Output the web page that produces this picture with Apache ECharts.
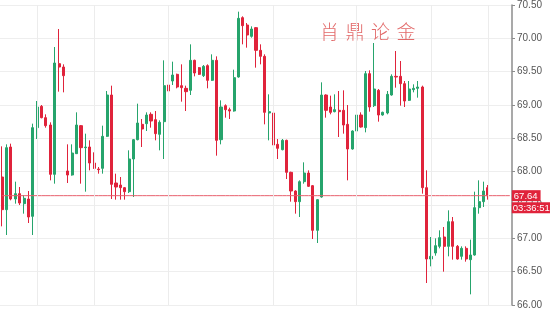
<!DOCTYPE html>
<html>
<head>
<meta charset="utf-8">
<script src="https://cdn.jsdelivr.net/npm/echarts@6/dist/echarts.min.js"></script>
<style>
html,body{margin:0;padding:0;background:#ffffff;}
#chart{width:550px;height:315px;}
</style>
</head>
<body>
<div id="chart"></div>
<script>
// ---- data (prices) ----
const openP = [
67.92,67.43,68.37,67.59,67.67,67.52,67.59,67.33,68.66,68.98,
68.81,68.70,67.96,69.62,69.57,68.01,67.95,68.27,68.69,68.36,
68.37,68.13,68.04,68.05,68.53,69.15,67.83,67.80,67.76,67.70,
68.19,68.48,68.71,68.72,68.86,68.78,68.56,68.75,69.30,69.36,
69.46,69.29,69.25,69.22,69.67,69.56,69.44,69.59,69.37,69.67,
68.48,68.99,68.93,68.91,69.42,70.31,70.20,70.03,70.16,69.82,
69.73,68.88,68.88,68.41,68.33,68.47,67.99,67.71,67.55,67.85,
67.98,67.79,67.12,67.62,69.15,68.97,68.90,68.92,68.92,68.71,
68.34,68.61,68.85,68.66,69.47,68.99,69.22,68.85,68.88,69.15,
69.43,69.43,69.32,69.07,69.23,69.25,69.27,67.76,66.69,66.78,
66.88,67.02,66.88,67.25,66.88,66.73,66.85,66.68,66.75,67.46,
67.55,67.76
];
const closeP = [
67.43,68.36,67.59,67.67,67.53,67.60,67.32,68.66,68.97,68.81,
68.69,67.96,69.63,69.57,69.44,67.95,68.28,68.70,68.36,68.37,
68.13,68.05,68.03,68.53,69.15,67.81,67.77,67.76,67.70,68.19,
68.48,68.73,68.64,68.85,68.76,68.57,68.74,69.29,69.21,69.45,
69.27,69.26,69.20,69.67,69.48,69.46,69.58,69.37,69.67,68.47,
68.97,68.93,68.91,69.41,70.30,70.19,70.05,70.14,69.82,69.73,
68.89,68.90,68.40,68.35,68.47,67.99,67.71,67.55,67.85,67.98,
67.78,67.12,67.58,69.15,68.92,68.89,68.93,68.90,68.70,68.34,
68.61,68.85,68.67,69.47,68.97,69.24,68.85,68.89,69.16,69.43,
69.42,69.32,69.06,69.24,69.25,69.27,67.76,66.69,66.73,66.89,
67.01,66.88,67.25,66.88,66.69,66.85,66.69,66.75,67.46,67.55,
67.71,67.64
];
const lowP = [
67.18,67.05,67.57,67.52,67.50,67.37,67.23,67.05,68.49,68.80,
68.66,67.87,67.82,69.20,69.19,67.83,67.94,68.27,67.82,67.70,
68.02,68.04,67.97,67.97,68.52,67.59,67.58,67.58,67.58,67.68,
67.62,68.47,68.37,68.61,68.66,68.47,68.32,68.19,69.20,69.30,
69.25,69.05,68.91,69.15,69.43,69.45,69.42,69.25,69.36,68.24,
68.41,68.81,68.79,68.90,69.41,69.91,69.86,70.01,69.56,69.61,
68.71,68.47,68.12,68.19,68.32,67.89,67.55,67.37,67.32,67.82,
67.77,66.99,66.93,67.61,68.81,68.86,68.89,68.52,68.57,67.87,
68.33,68.57,68.66,68.59,68.90,68.97,68.75,68.84,68.86,69.14,
69.26,68.99,68.97,69.06,69.19,69.11,67.67,66.33,66.58,66.74,
66.85,66.50,66.73,66.68,66.68,66.68,66.65,66.16,66.74,67.37,
67.47,67.58
];
const highP = [
68.38,68.41,68.42,67.85,67.77,67.65,67.71,68.72,69.06,69.00,
68.86,68.74,69.87,70.14,69.61,68.41,68.41,68.89,68.70,68.57,
68.47,68.29,68.07,68.69,69.21,69.29,67.97,67.92,67.77,68.32,
68.49,69.02,68.79,68.89,68.89,68.91,68.77,69.67,69.43,69.65,
69.47,69.61,69.29,69.91,69.68,69.57,69.60,69.61,69.76,69.73,
69.07,69.01,68.96,69.53,70.40,70.33,70.23,70.18,70.17,69.91,
69.76,69.16,68.89,68.49,68.49,68.48,68.00,67.72,67.87,68.14,
68.02,67.80,67.59,69.34,69.16,69.14,69.16,69.21,69.22,69.00,
68.62,68.89,68.89,69.51,69.52,69.93,69.24,68.90,69.21,69.46,
69.81,69.66,69.36,69.36,69.31,69.36,69.29,68.02,67.02,67.00,
67.12,67.17,67.42,67.32,66.90,66.88,66.88,66.98,67.70,67.87,
67.85,67.80
];
const yTickValues = [66.0,66.5,67.0,67.5,68.0,68.5,69.0,69.5,70.0,70.5];
const lastPrice = 67.64;
const countdown = '03:36:51';
const watermarkChars = ['肖','鼎','论','金'];
const sessionLineIdx = [8,21,38,62,81,98,111];
const emptySlots = 5;

const categories = Array.from({length: openP.length + emptySlots}, (_, i) => String(i));
const candleData = openP.map((o, i) => [o, closeP[i], lowP[i], highP[i]]);
const blank = categories.map(() => '-');
const priceLine = categories.map(() => lastPrice);

const UP = '#26a46c', DOWN = '#e0233b';
const FONT = 'Liberation Sans, Arial, sans-serif';

const chart = echarts.init(document.getElementById('chart'), null, {renderer: 'canvas'});
chart.setOption({
  animation: false,
  backgroundColor: '#ffffff',
  grid: {left: 0, right: 38, top: 3, bottom: 10, containLabel: false},
  xAxis: {
    type: 'category', data: categories, boundaryGap: true,
    axisLine: {show: false}, axisTick: {show: false}, axisLabel: {show: false},
    splitLine: {show: false}
  },
  yAxis: {
    type: 'value', position: 'right',
    min: yTickValues[0], max: yTickValues[yTickValues.length - 1], interval: 0.5,
    axisLine: {show: true, lineStyle: {color: '#8c8c8c', width: 1.5}},
    axisTick: {show: true, length: 3, lineStyle: {color: '#8c8c8c'}},
    axisLabel: {color: '#555555', fontSize: 10, margin: 5, fontFamily: FONT,
      formatter: v => v.toFixed(2)},
    splitLine: {show: true, lineStyle: {color: '#eeeeee', width: 1}}
  },
  graphic: watermarkChars.map((ch, i) => ({
    type: 'text', left: 320 + i * 25.5, top: 22, z: 5,
    style: {text: ch, fill: '#e26a6a', font: '300 19px "Noto Sans CJK SC"'}
  })),
  series: [
    {
      type: 'line', data: blank, z: 1, silent: true, symbol: 'none',
      markLine: {
        silent: true, symbol: 'none', label: {show: false},
        lineStyle: {color: '#ececec', width: 1, type: 'solid'},
        data: sessionLineIdx.map(i => ({xAxis: String(i)}))
      }
    },
    {
      type: 'candlestick', data: candleData, z: 3,
      barWidth: 2.6,
      itemStyle: {color: UP, color0: DOWN, borderColor: UP, borderColor0: DOWN, borderWidth: 1}
    },
    {
      type: 'line', data: priceLine, z: 4, silent: true, symbol: 'none',
      lineStyle: {color: '#e8606e', width: 1},
      itemStyle: {color: '#e8606e'},
      endLabel: {
        show: true, distance: 2, offset: [0, 6],
        formatter: '{a|' + lastPrice.toFixed(2) + '}\n{b|' + countdown + '}',
        rich: {
          a: {backgroundColor: DOWN, color: '#ffffff', fontSize: 9.5, padding: [1, 3, 0, 2], lineHeight: 12,
              fontFamily: FONT},
          b: {backgroundColor: DOWN, color: '#ffffff', fontSize: 9.5, padding: [1, 1, 0, 1], lineHeight: 12,
              fontFamily: FONT}
        }
      }
    }
  ]
});
</script>
</body>
</html>
